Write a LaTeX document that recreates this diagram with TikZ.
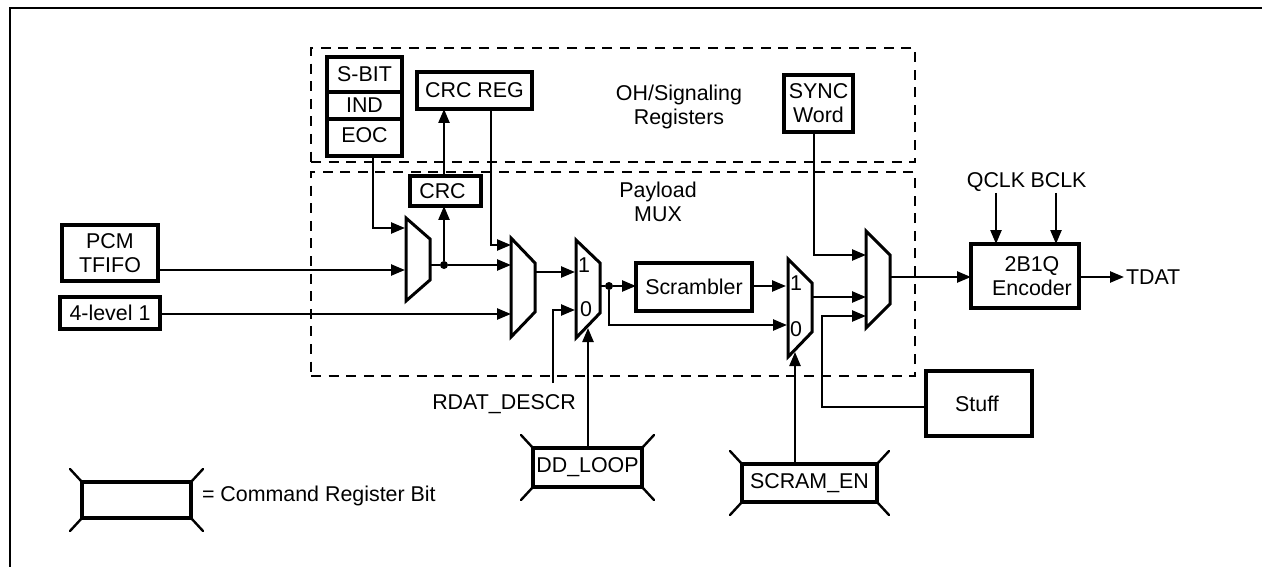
\documentclass[tikz,border=0pt]{standalone}
\usepackage{fontspec}
\setmainfont{Liberation Sans}
\usetikzlibrary{arrows.meta}
\newcommand\regbox[6][]{%
  \pgfmathsetmacro\bcx{(#3+#5)/2}\pgfmathsetmacro\bcy{(#4+#6)/2}%
  \pgfmathsetmacro\bw{#5-#3}\pgfmathsetmacro\bh{#6-#4}%
  \node[boxn,minimum width=\bw pt,minimum height=\bh pt,#1] (#2) at (\bcx,\bcy)}
\newcommand\muxat[7]{%
  \draw[muxn] (#2,#4) -- (#3,#6) -- (#3,#7) -- (#2,#5) -- cycle;
  \coordinate (#1l) at (#2,#4);
  \coordinate (#1r) at (#3,#6);}
\newcommand\ears[1]{%
  \draw[ear] (#1.north west) -- ++(-12,-13);
  \draw[ear] (#1.north east) -- ++(12,-13);
  \draw[ear] (#1.south west) -- ++(-12,13);
  \draw[ear] (#1.south east) -- ++(12,13);}
\tikzset{
  boxn/.style={draw,line width=3.3pt,inner sep=0pt,outer sep=0pt,align=center},
  muxn/.style={draw,line width=3pt,fill=white,line join=miter},
  wire/.style={line width=2.4pt},
  arr/.style={line width=2.4pt,-{Triangle[length=14pt,width=11pt]}},
  ear/.style={line width=2.4pt,line cap=round},
  dashn/.style={draw,line width=2.4pt,dash pattern=on 10pt off 7.6pt,inner sep=0pt,outer sep=0pt},
  lbl/.style={inner sep=0pt,outer sep=0pt,align=center},
  dot/.style={circle,fill=black,inner sep=0pt,minimum size=8pt}
}
\begin{document}
\begin{tikzpicture}[x=1pt,y=-1pt,every node/.append style={font=\fontsize{21.4}{24}\selectfont}]
\useasboundingbox (0,0) rectangle (1262,567);
% frame
\draw[line width=2.8pt] (10,567) -- (10,8) -- (1262,8);
% dashed regions
\regbox[dashn]{ohreg}{311}{48}{915}{162}{};
\regbox[dashn]{payreg}{311}{172}{915}{376}{};
\node[lbl] (ohtext) at (679,107) {OH/Signaling\\Registers};
\node[lbl] (paytext) at (658,202) {Payload\\MUX};
% boxes
\regbox{sbit}{327}{57}{402}{92}{S-BIT};
\regbox{ind}{327}{92}{402}{119}{IND};
\regbox{eoc}{327}{119}{402}{156}{\raisebox{5pt}{EOC}};
\regbox{crcreg}{417}{72}{532}{109}{CRC REG};
\regbox{crc}{410}{176}{481}{206}{\hspace*{-6pt}CRC};
\regbox{pcm}{62}{225}{158}{281}{PCM\\TFIFO};
\regbox{lvl}{60}{297}{160}{329}{4-level 1};
\regbox{scr}{636}{263}{752}{311}{Scrambler};
\regbox{sync}{784}{75}{853}{132}{SYNC\\Word};
\regbox{enc}{971}{244}{1079}{308}{\hspace*{14pt}2B1Q\\\hspace*{14pt}Encoder};
\regbox{stuff}{926}{371}{1032}{436}{\hspace*{-4pt}Stuff};
\regbox{dd}{533}{448}{642}{487}{DD\_LOOP};
\regbox{sc}{742}{464}{877}{502}{SCRAM\_EN};
\regbox{leg}{82}{482}{191}{518}{};
\ears{dd}\ears{sc}\ears{leg}
\node[lbl,anchor=west] (legtext) at (202,496) {= Command Register Bit};
% muxes
\muxat{ma}{406}{430}{218}{301}{239}{280}
\muxat{mb}{511}{535}{238}{337}{263}{312}
\muxat{mc}{576}{600}{240}{338}{263}{313}
\muxat{md}{788}{812}{259}{357}{283}{332}
\muxat{me}{866}{890}{231}{328}{255}{304}
\node[lbl] (mc1) at (584,265) {1};
\node[lbl] (mc0) at (586,309) {0};
\node[lbl] (md1) at (796,283) {1};
\node[lbl] (md0) at (796,329) {0};
% free labels
\node[lbl,anchor=base] (rdat) at (504,409) {RDAT\_DESCR};
\node[lbl,anchor=base] (qclk) at (996,188) {QCLK};
\node[lbl,anchor=base] (bclk) at (1058.5,188) {BCLK};
\node[lbl,anchor=west] (tdat) at (1126,277) {TDAT};
% junctions
\node[dot] (ja) at (444,265) {};
\node[dot] (jb) at (609,286) {};
% connectors
\draw[arr] (373,0 |- eoc.south) |- (405,228);
\draw[arr] (pcm.east |- 0,270) -- (405,270);
\draw[wire] (mar |- 0,265) -- (ja);
\draw[arr] (ja) -- (mbl |- 0,265);
\draw[arr] (ja) -- (444,0 |- crc.south);
\draw[arr] (444,0 |- crc.north) -- (444,0 |- crcreg.south);
\draw[arr] (491,0 |- crcreg.south) |- (mbl |- 0,245);
\draw[arr] (lvl.east |- 0,314) -- (mbl |- 0,314);
\draw[arr] (mbr |- 0,272) -- (575,272);
\coordinate (rdatend) at (553,383);
\draw[arr] (rdatend) |- (575,310);
\draw[wire] (mcr |- 0,286) -- (jb);
\draw[arr] (jb) -- (scr.west |- 0,286);
\draw[arr] (jb) |- (787,325);
\draw[arr] (scr.east |- 0,286) -- (786,286);
\draw[arr] (mdr |- 0,297) -- (mel |- 0,297);
\draw[arr] (588,0 |- dd.north) -- (588,328);
\draw[arr] (795,0 |- sc.north) -- (795,352);
\draw[arr] (814,0 |- sync.south) |- (mel |- 0,255);
\draw[arr] (stuff.west |- 0,407) -| (822,316) -- (mel |- 0,316);
\draw[arr] (mer |- 0,277) -- (enc.west |- 0,277);
\draw[arr] (996,193) -- (996,0 |- enc.north);
\draw[arr] (1056,193) -- (1056,0 |- enc.north);
\draw[arr] (enc.east |- 0,277) -- (1124,277);
\end{tikzpicture}
\end{document}
